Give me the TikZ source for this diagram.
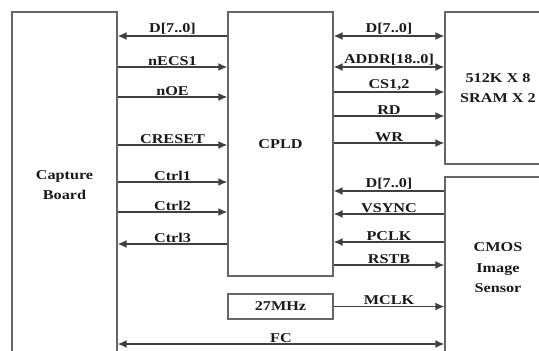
\documentclass[tikz,border=0pt]{standalone}
\usepackage{fontspec}
\setmainfont{Liberation Serif}[FakeStretch=1.2]
\usetikzlibrary{arrows.meta,calc,positioning}

\tikzset{
	blk/.style={draw=black!60, line width=1.3pt, minimum width=105pt, inner sep=0pt, align=center,
		font=\fontsize{13.5}{20.5}\selectfont\bfseries},
	sig/.style={draw=black!75, line width=1.4pt},
	tipr/.style={-{Latex[length=9pt,width=8pt]}},
	tipl/.style={{Latex[length=9pt,width=8pt]}-},
	tipb/.style={{Latex[length=9pt,width=8pt]}-{Latex[length=9pt,width=8pt]}},
	lab/.style={above, inner sep=0.8pt}
}

\begin{document}
\begin{tikzpicture}[x=1pt, y=-1pt, font=\fontsize{13.5}{15}\selectfont\bfseries, text=black!90]
		\useasboundingbox (0,0) rectangle (539,351);
		\clip (0,0) rectangle (539,351);
		% blocks
		\node[blk, minimum height=346pt] (cap) at (64.5,185) {Capture\\Board};
		\node[blk, minimum height=264pt] (cpld) at (280.5,144) {CPLD};
		\node[blk, minimum height=25pt] (osc) at (280.5,306.5) {27MHz};
		\node[blk, minimum width=106pt, minimum height=152pt] (sram) at (498,88) {512K X 8\\SRAM X 2};
		\node[blk, minimum width=106pt, minimum height=182pt] (cmos) at (498,268) {CMOS\\Image\\Sensor};
		% capture board <-> CPLD
		\foreach \y/\txt in {67/nECS1, 97/nOE, 145/CRESET, 182/Ctrl1, 212/Ctrl2}
		\draw[sig, tipr] (cap.east |- 0,\y) -- (cpld.west |- 0,\y) node[lab, midway] (lc\y) {\txt};
		\foreach \y/\txt in {36/D[7..0], 244/Ctrl3}
		\draw[sig, tipl] (cap.east |- 0,\y) -- (cpld.west |- 0,\y) node[lab, midway] (lc\y) {\txt};
		% CPLD <-> SRAM
		\foreach \y/\txt in {36/D[7..0], 67/ADDR[18..0]}
		\draw[sig, tipb] (cpld.east |- 0,\y) -- (sram.west |- 0,\y) node[lab, midway] (rs\y) {\txt};
		\foreach \y/\txt in {92/{CS1,2}, 116/RD, 143/WR}
		\draw[sig, tipr] (cpld.east |- 0,\y) -- (sram.west |- 0,\y) node[lab, midway] (rs\y) {\txt};
		% CPLD <-> sensor
		\foreach \y/\txt in {191/D[7..0], 214/VSYNC, 242/PCLK}
		\draw[sig, tipl] (cpld.east |- 0,\y) -- (cmos.west |- 0,\y) node[lab, midway] (rc\y) {\txt};
		\draw[sig, tipr] (cpld.east |- 0,265) -- (cmos.west |- 0,265) node[lab, midway] (rc265) {RSTB};
		\draw[sig, tipr] (osc.east) -- (cmos.west |- osc.east) node[lab, midway] (mclk) {MCLK};
		\draw[sig, tipb] (cap.east |- 0,344) -- (cmos.west |- 0,344) node[lab, midway] (fc) {FC};
	\end{tikzpicture}
\end{document}
